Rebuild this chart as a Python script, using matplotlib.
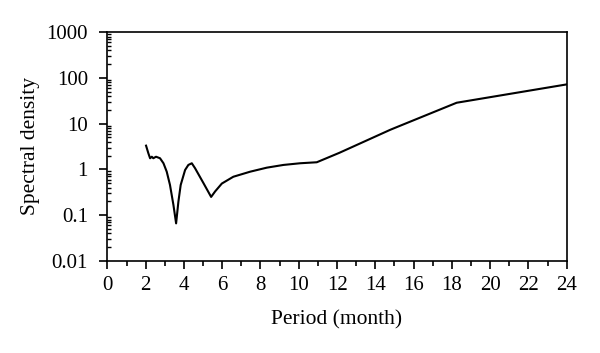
import matplotlib as mpl
mpl.use('Agg')
import matplotlib.pyplot as plt
from matplotlib.ticker import FixedLocator, LogLocator, NullFormatter, MultipleLocator

# Spectrum (period in months, spectral density)
period = [2.02, 2.14, 2.23, 2.32, 2.40, 2.54, 2.75, 2.93, 3.10, 3.27, 3.45,
          3.59, 3.71, 3.83, 4.06, 4.23, 4.41, 4.58, 5.02, 5.42, 5.63, 5.98,
          6.58, 7.46, 8.33, 9.20, 10.07, 10.94, 12.12, 14.77, 15.0, 18.25, 24.0]
density = [3.3, 2.25, 1.75, 1.89, 1.75, 1.89, 1.75, 1.36, 0.89, 0.457, 0.167,
           0.066, 0.197, 0.457, 0.97, 1.25, 1.36, 1.06, 0.50, 0.25, 0.33, 0.49,
           0.69, 0.89, 1.09, 1.25, 1.36, 1.43, 2.3, 7.3, 8.0, 28.6, 72.0]

ytick_vals = [0.01, 0.1, 1, 10, 100, 1000]
ytick_labels = ['0.01', '0.1', '1', '10', '100', '1000']
xtick_vals = list(range(0, 25, 2))

plt.rcParams['font.family'] = ['Liberation Serif', 'DejaVu Serif']

fig = plt.figure(figsize=(6, 3.53), dpi=100)
ax = fig.add_axes([0.179, 0.261, 0.7655, 0.648])
ax.plot(period, density, color='black', lw=1.5)

ax.set_yscale('log')
ax.set_ylim(0.01, 1000)
ax.set_xlim(0, 24)

ax.yaxis.set_major_locator(FixedLocator(ytick_vals))
ax.set_yticklabels(ytick_labels)
ax.yaxis.set_minor_locator(LogLocator(base=10, subs=range(2, 10)))
ax.yaxis.set_minor_formatter(NullFormatter())
ax.set_xticks(xtick_vals)
ax.xaxis.set_minor_locator(MultipleLocator(1))

ax.tick_params(axis='y', which='major', direction='out', length=6, width=1.2,
               labelsize=15, pad=8)
ax.tick_params(axis='x', which='major', direction='out', length=6, width=1.2,
               labelsize=15, pad=5)
ax.tick_params(axis='x', which='minor', direction='out', length=3.5, width=1.2)
ax.tick_params(axis='y', which='minor', direction='in', length=3, width=1)
for s in ax.spines.values():
    s.set_linewidth(1.2)

ax.set_xlabel('Period (month)', fontsize=15.5, labelpad=11)
ax.set_ylabel('Spectral density', fontsize=15.5, labelpad=5)

plt.savefig('out.png', dpi=100)
